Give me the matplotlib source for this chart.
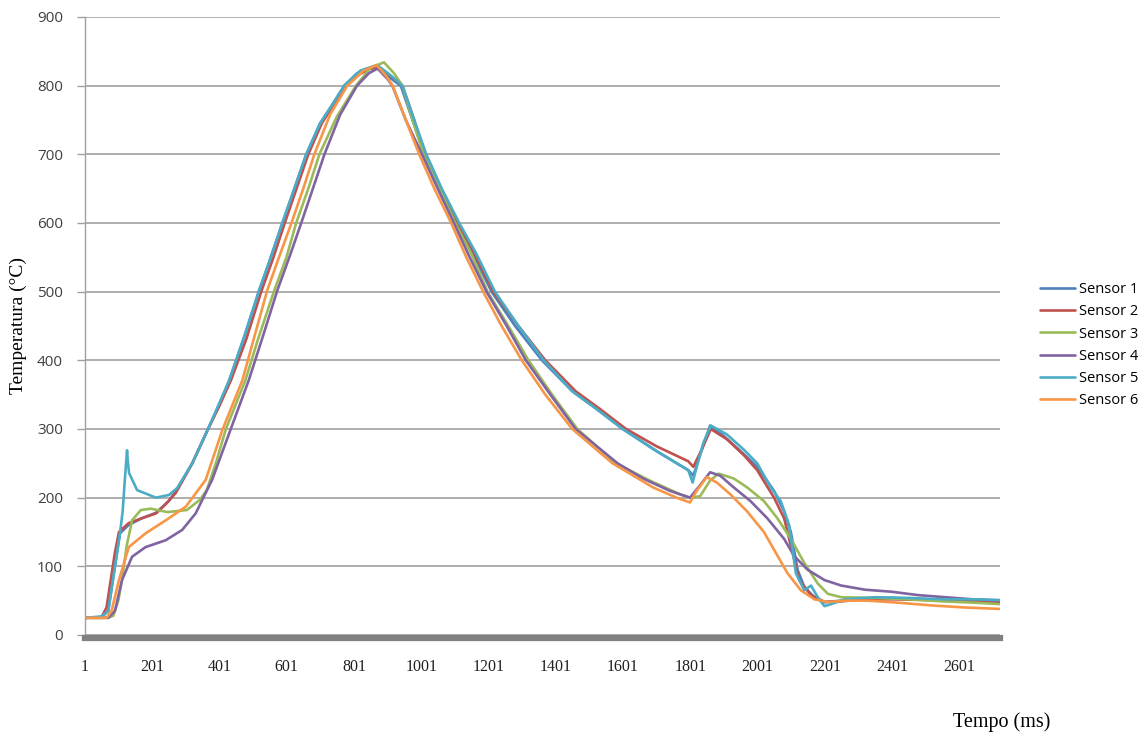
import numpy as np
import matplotlib
matplotlib.use('Agg')
import matplotlib.pyplot as plt


# valores (tempo em ms, temperatura em graus C)
t_s1 = [1, 50, 70, 90, 105, 130, 170, 212, 250, 275, 320, 365, 400, 430, 475, 519, 550, 588, 620,
        659, 700, 740, 772, 810, 840, 856, 875, 900, 920, 940, 975, 1010, 1050, 1105, 1150, 1210,
        1280, 1360, 1450, 1520, 1600, 1700, 1795, 1810, 1830, 1860, 1900, 1950, 2000, 2050, 2080,
        2100, 2120, 2140, 2170, 2200, 2250, 2300, 2400, 2500, 2600, 2720]
v_s1 = [25, 26, 35, 100, 148, 160, 170, 178, 195, 212, 250, 298, 335, 371, 435, 502, 545, 600, 645,
        700, 745, 775, 800, 818, 825, 827, 824, 815, 807, 800, 750, 700, 655, 600, 560, 500,
        450, 400, 355, 330, 300, 268, 240, 232, 262, 305, 290, 268, 245, 210, 180,
        150, 95, 70, 55, 48, 50, 53, 54, 52, 51, 50]

t_s2 = [1, 50, 65, 90, 102, 131, 170, 212, 240, 271, 320, 365, 400, 435, 480, 525, 560, 595, 630,
        665, 705, 745, 778, 815, 845, 870, 895, 920, 945, 980, 1012, 1055, 1108, 1155, 1215,
        1290, 1370, 1460, 1530, 1610, 1700, 1795, 1810, 1835, 1862, 1910, 1960, 2000, 2050, 2080,
        2100, 2125, 2160, 2200, 2250, 2300, 2400, 2500, 2600, 2720]
v_s2 = [25, 26, 40, 120, 150, 163, 170, 177, 190, 207, 250, 298, 333, 371, 430, 500, 548, 600, 650,
        700, 745, 776, 800, 816, 824, 826, 820, 810, 800, 750, 700, 655, 600, 560, 500,
        450, 400, 355, 330, 300, 275, 253, 245, 270, 300, 285, 262, 240, 200, 170,
        130, 80, 58, 48, 49, 51, 52, 51, 49, 48]

t_s3 = [1, 70, 85, 100, 111, 125, 141, 167, 197, 225, 247, 304, 343, 363, 390, 420, 478, 515, 564,
        600, 629, 665, 698, 750, 807, 850, 890, 920, 945, 975, 1008, 1055, 1102, 1150, 1198,
        1260, 1320, 1390, 1465, 1580, 1680, 1770, 1800, 1830, 1860, 1885, 1930, 1970, 2020, 2060,
        2100, 2140, 2180, 2210, 2250, 2350, 2450, 2550, 2650, 2720]
v_s3 = [25, 25, 28, 50, 80, 130, 167, 182, 184, 181, 179, 182, 197, 211, 250, 300, 371, 430, 502,
        550, 600, 650, 700, 755, 800, 826, 834, 818, 800, 750, 700, 650, 600, 555, 500,
        450, 400, 350, 300, 250, 225, 205, 200, 202, 225, 235, 228, 215, 195, 170,
        140, 105, 75, 60, 55, 54, 52, 49, 47, 45]

t_s4 = [1, 70, 90, 111, 141, 181, 241, 290, 330, 379, 433, 488, 530, 573, 610, 644, 680, 713, 760,
        810, 845, 871, 900, 915, 955, 1003, 1050, 1098, 1145, 1195, 1255, 1312, 1385, 1460, 1585,
        1660, 1740, 1800, 1825, 1860, 1890, 1930, 1980, 2030, 2080, 2110, 2150, 2200, 2250, 2320,
        2400, 2480, 2560, 2640, 2720]
v_s4 = [25, 25, 35, 80, 114, 128, 138, 153, 177, 226, 298, 371, 435, 502, 552, 600, 652, 700, 758,
        800, 818, 825, 810, 800, 750, 700, 650, 600, 550, 500, 450, 400, 350, 300, 250,
        228, 210, 200, 215, 237, 232, 215, 195, 170, 140, 115, 95, 80, 72, 66,
        63, 58, 55, 52, 50]

t_s5 = [1, 50, 70, 90, 105, 113, 120, 126, 128, 132, 156, 212, 251, 275, 320, 365, 430, 475, 519,
        550, 588, 620, 659, 700, 740, 772, 820, 870, 910, 945, 980, 1016, 1062, 1114, 1165, 1220,
        1290, 1365, 1450, 1520, 1600, 1700, 1795, 1808, 1820, 1840, 1862, 1910, 1960, 2000, 2040,
        2070, 2095, 2115, 2140, 2160, 2180, 2200, 2220, 2260, 2350, 2450, 2550, 2650, 2720]
v_s5 = [25, 27, 35, 100, 148, 180, 230, 269, 255, 236, 211, 200, 204, 214, 250, 298, 371, 435, 502,
        545, 600, 645, 700, 745, 775, 800, 822, 830, 815, 800, 750, 700, 650, 600, 555, 500,
        450, 400, 355, 330, 300, 268, 240, 222, 245, 280, 305, 292, 270, 250, 215,
        195, 160, 90, 65, 72, 55, 42, 45, 52, 55, 54, 52, 52, 51]

t_s6 = [1, 65, 80, 102, 131, 181, 241, 301, 360, 409, 469, 505, 543, 580, 615, 650, 683, 730, 781,
        830, 868, 895, 916, 955, 995, 1040, 1090, 1135, 1185, 1240, 1300, 1370, 1450, 1570, 1690,
        1760, 1800, 1820, 1850, 1880, 1920, 1970, 2020, 2055, 2090, 2130, 2170, 2210, 2260, 2330,
        2420, 2520, 2620, 2720]
v_s6 = [25, 25, 35, 80, 128, 148, 167, 187, 226, 298, 371, 435, 502, 553, 600, 650, 700, 758, 800,
        822, 830, 815, 800, 750, 700, 650, 600, 550, 500, 450, 400, 350, 300, 250, 215,
        200, 193, 210, 230, 222, 205, 180, 150, 120, 90, 65, 52, 48, 50, 50,
        47, 43, 40, 38]

series = [
    ('Sensor 1', t_s1, v_s1, '#4F81BD'),
    ('Sensor 2', t_s2, v_s2, '#C0504D'),
    ('Sensor 3', t_s3, v_s3, '#9BBB59'),
    ('Sensor 4', t_s4, v_s4, '#8064A2'),
    ('Sensor 5', t_s5, v_s5, '#4BACC6'),
    ('Sensor 6', t_s6, v_s6, '#F79646'),
]

xticks = [1, 201, 401, 601, 801, 1001, 1201, 1401, 1601, 1801, 2001, 2201, 2401, 2601]
yticks = [0, 100, 200, 300, 400, 500, 600, 700, 800, 900]


W, H = 1147, 738
fig = plt.figure(figsize=(W / 100, H / 100), dpi=100)
ax = fig.add_axes([85 / W, 1 - 635 / H, (1000 - 85) / W, (635 - 17) / H])

for name, t, v, cor in series:
    ax.plot(t, v, color=cor, lw=1.9, label=name, solid_capstyle='round', solid_joinstyle='round')

ax.set_xlim(1, 2722)
ax.set_ylim(0, 900)
ax.set_xticks(xticks)
ax.set_xticklabels([str(x) for x in xticks])
ax.set_yticks(yticks)
ax.set_yticklabels([str(y) for y in yticks])

ax.yaxis.grid(True, color='#a0a0a0', lw=1.2)
ax.set_axisbelow(True)

for s in ['top', 'right']:
    ax.spines[s].set_visible(False)
ax.spines['left'].set_color('#a0a0a0')
ax.spines['left'].set_linewidth(1.0)
ax.spines['bottom'].set_color('#808080')
ax.spines['bottom'].set_linewidth(4.5)
ax.spines['bottom'].set_position(('outward', 2))

ax.tick_params(axis='x', length=0, pad=15, labelsize=11.5, labelfontfamily='Liberation Serif',
               labelcolor='#202020')
ax.tick_params(axis='y', length=6, width=1, color='#a0a0a0', pad=10, labelsize=11,
               labelfontfamily='Open Sans', labelcolor='#404040')

fig.text(18 / W, 1 - 325 / H, 'Temperatura (°C)', rotation=90, ha='center', va='center',
         family='Liberation Serif', fontsize=14)
fig.text(1002 / W, 1 - 722 / H, 'Tempo (ms)', ha='center', va='center',
         family='Liberation Serif', fontsize=14.5)

fig.legend(loc='upper left', bbox_to_anchor=(1040 / W, 1 - 282 / H), frameon=False,
           prop={'family': 'Open Sans', 'size': 10.5}, handlelength=2.4, handletextpad=0.3,
           labelspacing=0.5, borderpad=0, borderaxespad=0)

fig.savefig('out.png', dpi=100, facecolor='white')
